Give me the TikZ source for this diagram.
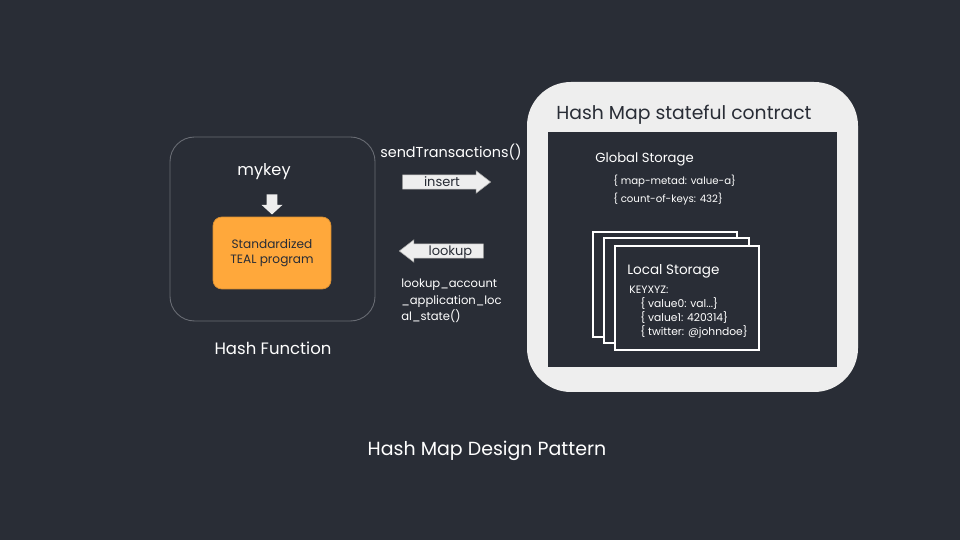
\documentclass[tikz,border=0pt]{standalone}
\usepackage{fontspec}
\setmainfont{Poppins}
\usepackage{tikz}
\usetikzlibrary{positioning,shapes.arrows}
\definecolor{bgdark}{RGB}{41,45,54}
\definecolor{paneltone}{RGB}{238,238,238}
\definecolor{tealorange}{RGB}{255,168,59}
\definecolor{framegray}{RGB}{105,108,116}
\tikzset{%
	label/.style    = {text=white, inner sep=0pt},
	smalltext/.style= {text=white, inner sep=0pt, anchor=west, font=\fontsize{6.1}{7}\selectfont},
	blockarrow/.style= {single arrow, fill=paneltone, draw=paneltone!70!black, line width=0.3pt, single arrow head extend=2.3pt, single arrow tip angle=75, inner xsep=2pt, inner ysep=0pt, text height=6.3pt, text depth=1.6pt, font=\fontsize{7.4}{8}\selectfont, text=bgdark},
	storebox/.style = {draw=white, line width=0.7pt, fill=bgdark},
}
\begin{document}
\begin{tikzpicture}[x=0.02cm,y=-0.02cm]
	\fill[bgdark] (0,0) rectangle (960,540);
	\useasboundingbox (0,0) rectangle (960,540);
	% hash function side
	\draw[framegray, line width=0.5pt, rounded corners=14pt] (170,137) rectangle (375,321);
	\node[label, font=\fontsize{9.2}{10}\selectfont] (mykey) at (264,172) {mykey};
	\node[single arrow, shape border rotate=270, fill=paneltone, minimum height=0.40cm, minimum width=0.42cm, single arrow head extend=1.8pt, single arrow tip angle=95, inner sep=1.7pt] (keyarrow) at (272,202) {};
	\node[draw=tealorange!85!black, fill=tealorange, rounded corners=5pt, minimum width=2.36cm, minimum height=1.44cm, align=center, text=bgdark, font=\fontsize{6.9}{8.1}\selectfont] (teal) at (272,253) {Standardized\\TEAL program};
	\node[label, font=\fontsize{9.4}{10}\selectfont] (hashfn) at (273,348) {Hash Function};
	% transactions
	\node[label, font=\fontsize{8.2}{10}\selectfont] (sendtx) at (451,152) {sendTransactions()};
	\node[blockarrow, minimum height=1.76cm] (insert) at (442,182) {insert\hspace{8pt}};
	\node[blockarrow, shape border rotate=180, minimum height=1.68cm] (lookup) at (446,251) {\hspace{5pt}lookup};
	\node[label, anchor=north west, align=left, font=\fontsize{6.6}{9.3}\selectfont] (lookupfn) at (401,279) {lookup\_account\\\_application\_loc\\al\_state()};
	% contract side
	\fill[paneltone, rounded corners=25pt] (527,82) rectangle (858,392);
	\node[text=bgdark, anchor=west, inner sep=0pt, font=\fontsize{10.7}{12}\selectfont] (title) at (556,114.5) {Hash Map stateful contract};
	\fill[bgdark] (548,132) rectangle (837,367);
	\node[label, anchor=west, font=\fontsize{7.5}{9}\selectfont] (global) at (595,159) {Global Storage};
	\node[smalltext, font=\fontsize{5.8}{7}\selectfont] (gvala) at (613,181) {\{ map-metad: value-a\}};
	\node[smalltext, font=\fontsize{5.8}{7}\selectfont] (gvalb) at (613,199) {\{ count-of-keys: 432\}};
	\draw[storebox] (593,232) rectangle (737,337);
	\draw[storebox] (604,238) rectangle (749,343);
	\draw[storebox] (615,246) rectangle (759,350);
	\node[label, anchor=west, font=\fontsize{7.7}{9}\selectfont] (local) at (627,271) {Local Storage};
	\node[smalltext] (keyname) at (629,290) {KEYXYZ:};
	\node[smalltext] (lvala) at (640,303) {\{ value0: val...\}};
	\node[smalltext] (lvalb) at (640,317) {\{ value1: 420314\}};
	\node[smalltext] (lvalc) at (640,332) {\{ twitter: @johndoe\}};
	% caption
	\node[label, font=\fontsize{10.8}{12}\selectfont] (caption) at (487,451) {Hash Map Design Pattern};
\end{tikzpicture}
\end{document}
